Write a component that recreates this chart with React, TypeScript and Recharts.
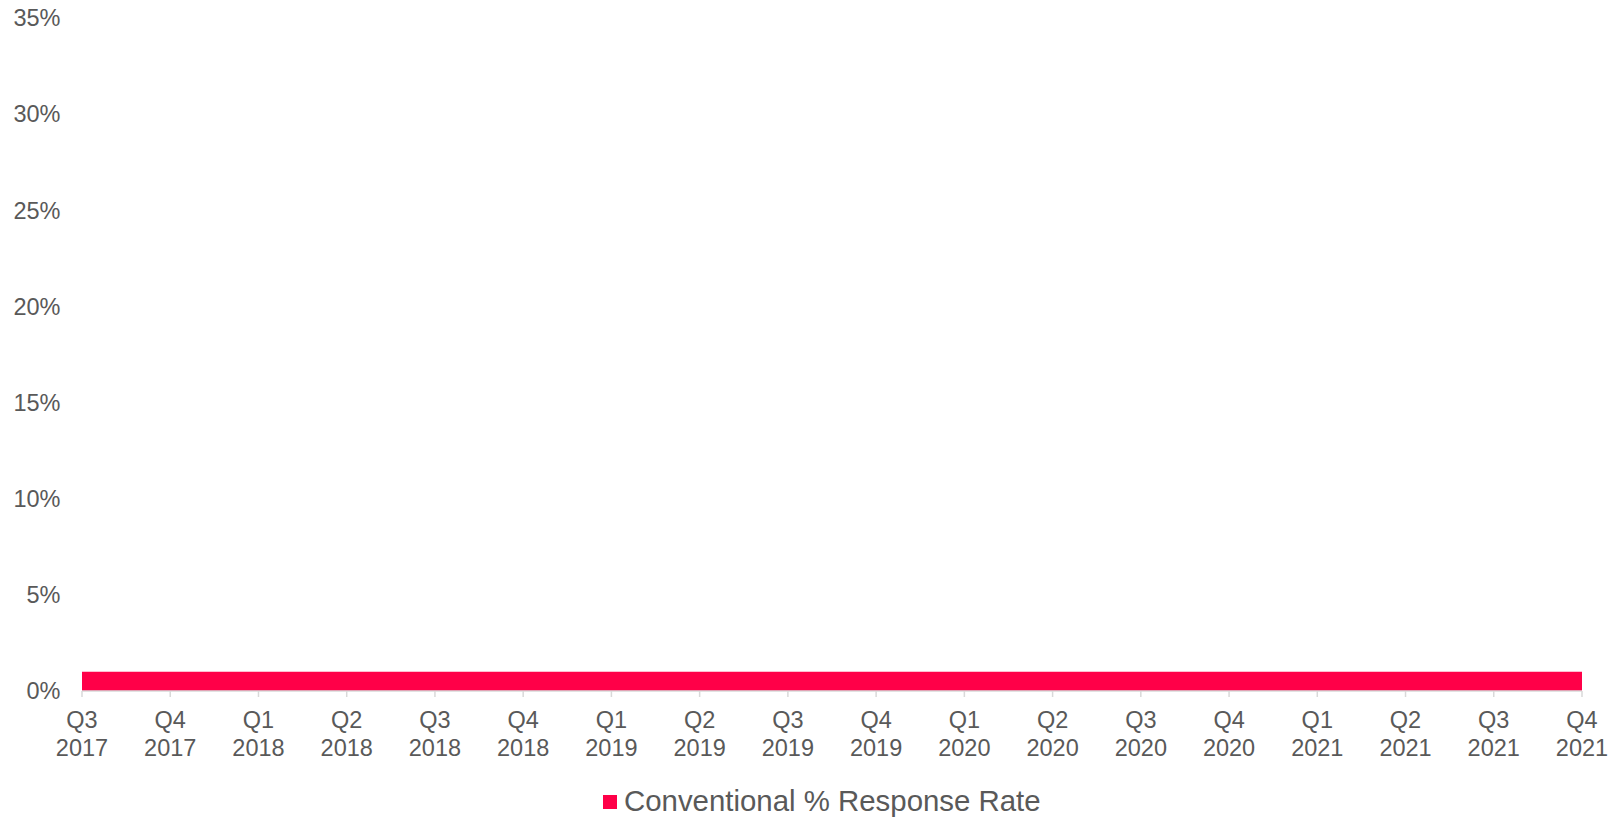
import { AreaChart, Area, XAxis, YAxis, Legend } from "recharts"

const quarters = ["Q3", "Q4", "Q1", "Q2", "Q3", "Q4", "Q1", "Q2", "Q3", "Q4", "Q1", "Q2", "Q3", "Q4", "Q1", "Q2", "Q3", "Q4"]
const years = ["2017", "2017", "2018", "2018", "2018", "2018", "2019", "2019", "2019", "2019", "2020", "2020", "2020", "2020", "2021", "2021", "2021", "2021"]
const responseRate = [1, 1, 1, 1, 1, 1, 1, 1, 1, 1, 1, 1, 1, 1, 1, 1, 1, 1]
const yTicks = [0, 5, 10, 15, 20, 25, 30, 35]

const TEXT = "#595959"
const PINK = "#ff0048"
const FONT = "'Liberation Sans', Arial, sans-serif"

const data = quarters.map((q, i) => ({
  label: `${q} ${years[i]}`,
  quarter: q,
  year: years[i],
  rate: responseRate[i],
}))

function QuarterTick({ x, y, index }: any) {
  return (
    <text x={x} y={y + 29} textAnchor="middle" fill={TEXT} fontSize={23.5} fontFamily={FONT}>
      <tspan x={x}>{quarters[index]}</tspan>
      <tspan x={x} dy={27.5}>{years[index]}</tspan>
    </text>
  )
}

function LegendContent() {
  return (
    <div style={{ display: "flex", alignItems: "center", fontFamily: FONT, fontSize: 29.4, color: TEXT, lineHeight: "33px" }}>
      <span style={{ display: "inline-block", width: 14, height: 14, background: PINK, marginRight: 7, marginTop: 3 }} />
      <span>Conventional % Response Rate</span>
    </div>
  )
}

export default function App() {
  return (
    <div style={{ position: "absolute", left: 0, top: 0, width: 1613, height: 820, background: "#fff" }}>
      <AreaChart width={1613} height={820} data={data} margin={{ top: 18, right: 31, bottom: 69, left: 0 }}>
        <XAxis
          dataKey="label"
          height={60}
          interval={0}
          axisLine={{ stroke: "#d9d9d9", strokeWidth: 1.5 }}
          tickLine={{ stroke: "#d9d9d9", strokeWidth: 1.5 }}
          tickSize={6}
          tickMargin={2}
          tick={<QuarterTick />}
        />
        <YAxis
          width={82}
          domain={[0, 35]}
          ticks={yTicks}
          interval={0}
          axisLine={false}
          tickLine={false}
          tickSize={0}
          tickMargin={21.5}
          tickFormatter={(v: number) => `${v}%`}
          tick={{ fill: TEXT, fontSize: 23.5, fontFamily: FONT }}
        />
        <Legend
          verticalAlign="middle"
          align="center"
          wrapperStyle={{ left: 603, top: 784, width: "auto" }}
          content={<LegendContent />}
        />
        <Area
          type="linear"
          dataKey="rate"
          name="Conventional % Response Rate"
          fill={PINK}
          fillOpacity={1}
          stroke="none"
          isAnimationActive={false}
        />
      </AreaChart>
    </div>
  )
}
